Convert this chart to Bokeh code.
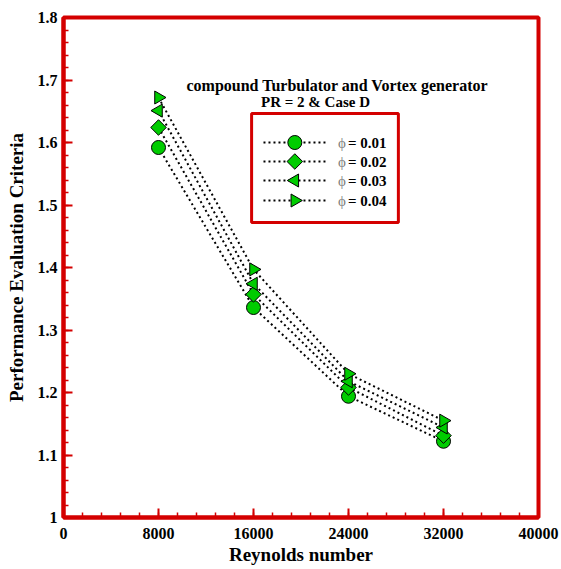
import numpy as np
from bokeh.plotting import figure
from bokeh.models import (Range1d, SingleIntervalTicker, NumeralTickFormatter, Label)
from bokeh.embed import file_html
from bokeh.resources import INLINE

# ---- data ----
reynolds = [8000, 16000, 24000, 32000]
pec_phi_001 = [1.592, 1.336, 1.194, 1.122]
pec_phi_002 = [1.624, 1.357, 1.208, 1.131]
pec_phi_003 = [1.651, 1.374, 1.218, 1.144]
pec_phi_004 = [1.672, 1.397, 1.230, 1.155]
phi_values = ["0.01", "0.02", "0.03", "0.04"]
title_line1 = "compound Turbulator and Vortex generator"
title_line2 = "PR = 2 & Case D"

RED = "#d40000"
GREEN = "#00cc00"
FONT = "Liberation Serif"

X0, X1 = 0, 40000
Y0, Y1 = 1.0, 1.8

p = figure(width=561, height=569, output_backend="svg", toolbar_location=None,
           x_range=Range1d(X0, X1), y_range=Range1d(Y0, Y1),
           min_border_left=63, min_border_right=23, min_border_top=17,
           min_border_bottom=52)
p.grid.visible = False
p.background_fill_color = "white"
p.border_fill_color = "white"
p.outline_line_color = RED
p.outline_line_width = 4

p.xaxis.ticker = SingleIntervalTicker(interval=8000, num_minor_ticks=5)
p.yaxis.ticker = SingleIntervalTicker(interval=0.1, num_minor_ticks=5)
p.xaxis.formatter = NumeralTickFormatter(format="0")
p.yaxis.formatter = NumeralTickFormatter(format="0.[0]")
p.xaxis.axis_label = "Reynolds number"
p.yaxis.axis_label = "Performance Evaluation Criteria"
for ax in (p.xaxis, p.yaxis):
    ax.axis_line_color = RED
    ax.axis_line_width = 4
    ax.major_tick_line_color = RED
    ax.major_tick_line_width = 2
    ax.minor_tick_line_color = RED
    ax.minor_tick_line_width = 1.5
    ax.major_tick_in = 9
    ax.major_tick_out = 0
    ax.minor_tick_in = 5
    ax.minor_tick_out = 0
    ax.major_label_text_font = FONT
    ax.major_label_text_font_style = "bold"
    ax.major_label_text_font_size = "16px"
    ax.major_label_text_color = "black"
    ax.axis_label_text_font = FONT
    ax.axis_label_text_font_style = "bold"
    ax.axis_label_text_font_size = "19px"
    ax.axis_label_text_color = "black"
p.xaxis.major_label_standoff = 10
p.xaxis.axis_label_standoff = 2
p.yaxis.major_label_standoff = 6
p.yaxis.axis_label_standoff = 8

# marker, size, rotation (diamond = square turned 45 degrees)
markers = [("circle", 14, 0.0), ("square", 11, np.pi / 4),
           ("triangle", 13, np.pi / 2), ("triangle", 13, -np.pi / 2)]
series = [pec_phi_001, pec_phi_002, pec_phi_003, pec_phi_004]

# helpers: fraction of the frame -> data coordinates (for the legend layout)
def fx(f):
    return X0 + f * (X1 - X0)

def fy(f):
    return Y0 + f * (Y1 - Y0)

# legend box
p.quad(left=[fx(0.396)], right=[fx(0.705)], top=[fy(0.808)], bottom=[fy(0.590)],
       fill_color="white", line_color=RED, line_width=3)

for vals, (mk, sz, ang) in zip(series, markers):
    p.line(reynolds, vals, line_color="black", line_width=2, line_dash="2 3")
    p.scatter(reynolds, vals, marker=mk, size=sz, angle=ang,
              fill_color=GREEN, line_color="black", line_width=1)

# legend entries
row_fracs = [0.750, 0.712, 0.674, 0.634]
for rf, (mk, sz, ang), pv in zip(row_fracs, markers, phi_values):
    p.line([fx(0.421), fx(0.552)], [fy(rf), fy(rf)], line_color="black",
           line_width=2, line_dash="2 3")
    p.scatter([fx(0.487)], [fy(rf)], marker=mk, size=sz, angle=ang,
              fill_color=GREEN, line_color="black", line_width=1)
    p.add_layout(Label(x=fx(0.578), y=fy(rf), text="ϕ", text_font=FONT,
                       text_font_size="15px", text_color="#808080",
                       text_align="left", text_baseline="middle"))
    p.add_layout(Label(x=fx(0.599), y=fy(rf), text="= " + pv, text_font=FONT,
                       text_font_style="bold", text_font_size="15px",
                       text_color="black", text_align="left",
                       text_baseline="middle"))

p.add_layout(Label(x=23070, y=1.6912, text=title_line1, text_font=FONT,
                   text_font_style="bold", text_font_size="16px",
                   text_color="black",
                   text_align="center", text_baseline="middle"))
p.add_layout(Label(x=21221, y=1.6645, text=title_line2, text_font=FONT,
                   text_font_style="bold", text_font_size="15px",
                   text_color="black",
                   text_align="center", text_baseline="middle"))

open("out.html", "w").write(file_html(p, INLINE))
